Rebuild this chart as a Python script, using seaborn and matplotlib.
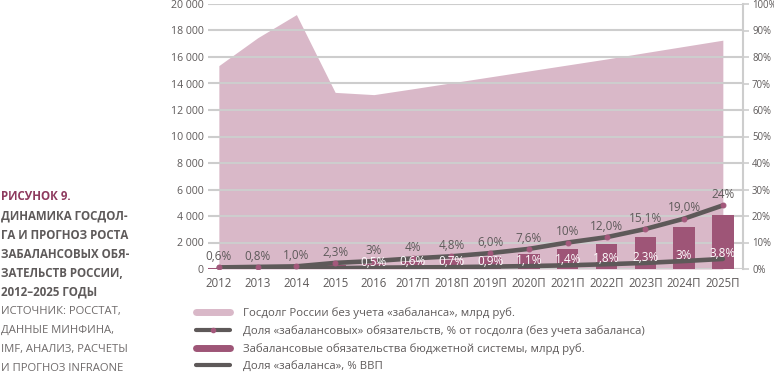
import matplotlib
matplotlib.use("Agg")
import matplotlib.pyplot as plt
import seaborn as sns
import numpy as np
import pandas as pd
from matplotlib.lines import Line2D

# Data
years = ["2012", "2013", "2014", "2015", "2016", "2017П", "2018П", "2019П",
         "2020П", "2021П", "2022П", "2023П", "2024П", "2025П"]
gov_debt = [15350, 17450, 19200, 13330, 13160, 13600, 14050, 14500,
            14950, 15400, 15850, 16330, 16800, 17270]
offbalance = [95, 140, 190, 300, 395, 545, 675, 870,
              1130, 1530, 1880, 2420, 3150, 4100]
share_debt = [0.6, 0.8, 1.0, 2.3, 3, 4, 4.8, 6.0, 7.6, 10, 12.0, 15.1, 19.0, 24]
share_debt_labels = ["0,6%", "0,8%", "1,0%", "2,3%", "3%", "4%", "4,8%", "6,0%",
                     "7,6%", "10%", "12,0%", "15,1%", "19,0%", "24%"]
share_gdp = [0.15, 0.2, 0.25, 0.3, 0.5, 0.6, 0.7, 0.9, 1.1, 1.4, 1.8, 2.3, 3, 3.8]
share_gdp_labels = ["", "", "", "", "0,5%", "0,6%", "0,7%", "0,9%", "1,1%",
                    "1,4%", "1,8%", "2,3%", "3%", "3,8%"]
left_ticks = [0, 2000, 4000, 6000, 8000, 10000, 12000, 14000, 16000, 18000, 20000]
right_ticks = [0, 10, 20, 30, 40, 50, 60, 70, 80, 90, 100]

legend_labels = [
    "Госдолг России без учета «забаланса», млрд руб.",
    "Доля «забалансовых» обязательств, % от госдолга (без учета забаланса)",
    "Забалансовые обязательства бюджетной системы, млрд руб.",
    "Доля «забаланса», % ВВП",
]
caption_title = "РИСУНОК 9."
caption_bold = ["ДИНАМИКА ГОСДОЛ-", "ГА И ПРОГНОЗ РОСТА", "ЗАБАЛАНСОВЫХ ОБЯ-",
                "ЗАТЕЛЬСТВ РОССИИ,", "2012–2025 ГОДЫ"]
caption_source = ["ИСТОЧНИК: РОССТАТ,", "ДАННЫЕ МИНФИНА,", "IMF, АНАЛИЗ, РАСЧЕТЫ",
                  "И ПРОГНОЗ INFRAONE"]

df = pd.DataFrame({
    "year": years,
    "pos": np.arange(len(years)),
    "debt": gov_debt,
    "offbalance": offbalance,
    "share_debt": share_debt,
    "share_gdp": share_gdp,
})

sns.set_theme(style="white")
plt.rcParams["font.family"] = ["Open Sans", "DejaVu Sans"]

# Colours
area_color = "#d9b8c8"
bar_color = "#9e5577"
line_color = "#5e5959"
dot_color = "#a4587c"
grid_color = "#cdcdcd"
text_color = "#5e5a5a"

fig = plt.figure(figsize=(7.74, 3.75), dpi=100)
ax = fig.add_axes([208 / 774, 1 - 269 / 375, (743 - 208) / 774, (269 - 4) / 375])

# Area: government debt
ax.fill_between(df["pos"], 0, df["debt"], color=area_color, lw=0, zorder=1)

# Bars: off-balance obligations
sns.barplot(data=df, x="pos", y="offbalance", native_scale=True, width=0.55,
            color=bar_color, saturation=1, edgecolor="none", ax=ax, zorder=2)

ax.set_xlim(-0.28, len(years) - 1 + 0.52)
ax.set_ylim(0, 20000)
ax.set_yticks(left_ticks)
ax.set_yticklabels([f"{v:,}".replace(",", " ") for v in left_ticks])
ax.set_xticks(df["pos"])
ax.set_xticklabels(years)
ax.set_xlabel("")
ax.set_ylabel("")
ax.set_axisbelow("line")
ax.grid(axis="y", color=grid_color, lw=1.5)
ax.grid(axis="x", visible=False)
for s in ax.spines.values():
    s.set_visible(False)
ax.tick_params(axis="y", length=0, pad=3, labelsize=7.6, labelcolor=text_color)
ax.tick_params(axis="x", length=0, pad=6, labelsize=8.3, labelcolor=text_color)

# Right axis with the shares
ax2 = ax.twinx()
ax2.set_ylim(0, 100)
sns.lineplot(data=df, x="pos", y="share_gdp", color=line_color, lw=3.3,
             ax=ax2, zorder=3)
sns.lineplot(data=df, x="pos", y="share_debt", color=line_color, lw=3.3,
             marker="o", markersize=3.5, markerfacecolor=dot_color,
             markeredgecolor=dot_color, ax=ax2, zorder=4)
ax2.set_xlim(ax.get_xlim())
ax2.set_yticks(right_ticks)
ax2.set_yticklabels([f"{v}%" for v in right_ticks])
ax2.set_ylabel("")
ax2.set_xlabel("")
for s in ["top", "left", "bottom"]:
    ax2.spines[s].set_visible(False)
ax2.spines["right"].set_color(grid_color)
ax2.spines["right"].set_linewidth(1.5)
ax2.tick_params(axis="y", length=4, width=1.2, color=grid_color, pad=2.5,
                labelsize=6.9, labelcolor=text_color)

for p, v, lab in zip(df["pos"], share_debt, share_debt_labels):
    ax2.annotate(lab, (p, v), xytext=(0, 7.8), textcoords="offset points",
                 ha="center", va="center", fontsize=8.5, color=text_color, zorder=5)
for p, v, lab in zip(df["pos"], share_gdp, share_gdp_labels):
    if lab:
        ax2.annotate(lab, (p, v), xytext=(0, 4), textcoords="offset points",
                     ha="center", va="center", fontsize=8.5, color="white", zorder=5)

# Legend
handles = [
    Line2D([], [], color=area_color, lw=5),
    Line2D([], [], color=line_color, lw=3, marker="o", markersize=3,
           markerfacecolor=dot_color, markeredgecolor=dot_color),
    Line2D([], [], color=bar_color, lw=5),
    Line2D([], [], color=line_color, lw=3),
]
fig.legend(handles, legend_labels, loc="upper left",
           bbox_to_anchor=(196 / 774, 1 - 307 / 375), frameon=False,
           fontsize=8.2, handlelength=3.0, handletextpad=1.1, labelspacing=0.55,
           borderpad=0, borderaxespad=0, numpoints=1, labelcolor=text_color)

# Caption on the left
y0, step = 197, 19.1
fig.text(1 / 774, 1 - y0 / 375, caption_title, fontsize=8.3, fontweight="bold",
         color="#8e3a5e", va="center", ha="left")
for i, line in enumerate(caption_bold):
    fig.text(1 / 774, 1 - (y0 + step * (i + 1)) / 375, line, fontsize=8.3,
             fontweight="bold", color=text_color, va="center", ha="left")
for i, line in enumerate(caption_source):
    fig.text(1 / 774, 1 - (y0 + step * (i + 1 + len(caption_bold))) / 375, line,
             fontsize=8.1, color="#6e6a6a", va="center", ha="left")

fig.savefig("out.png", dpi=100)
